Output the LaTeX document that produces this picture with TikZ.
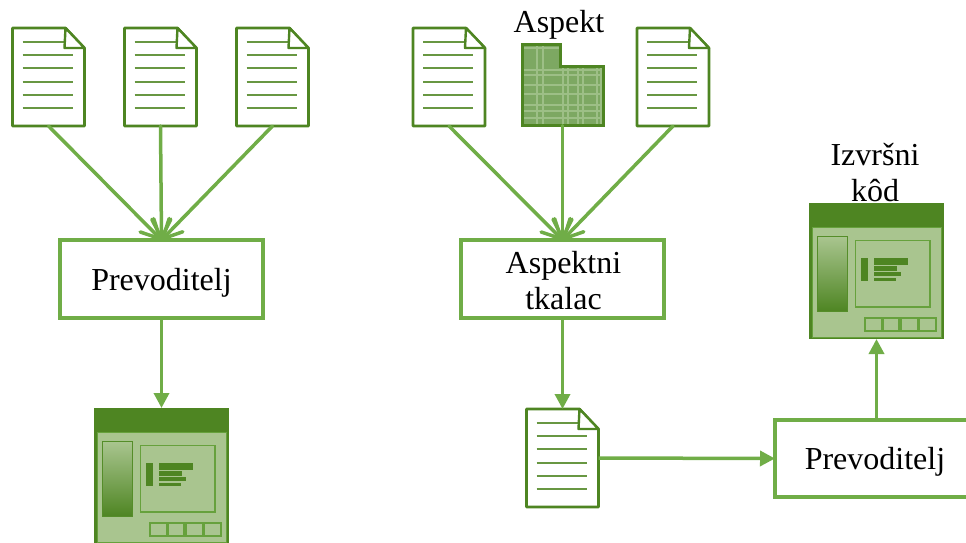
\documentclass[tikz,border=0pt]{standalone}
\usepackage{fontspec}
\setmainfont{Liberation Serif}
\usetikzlibrary{arrows.meta}
\definecolor{gline}{HTML}{70AD47}
\definecolor{gdark}{HTML}{4E8522}
\definecolor{gpanel}{HTML}{A9C58F}
\definecolor{gasp}{HTML}{7DA862}
\definecolor{gpat}{HTML}{9DBF86}
\tikzset{
  x=1pt,y=-1pt,
  txt/.style={font=\fontsize{32}{37}\selectfont,align=center,inner sep=0pt,text=black},
  procbox/.style={draw=gline,line width=3.3pt,fill=white,minimum width=203pt,minimum height=78pt,inner sep=0pt,outer sep=0pt,anchor=north west},
  conn/.style={draw=gline,line width=3.5pt},
  barbtip/.style={-{Straight Barb[length=19pt,width=19pt,round]}},
  tritip/.style={-{Triangle[length=15pt,width=15pt]}},
  docline/.style={draw=gdark,line width=2pt,opacity=.85},
  hold/.style={inner sep=0pt,outer sep=0pt,anchor=north west},
  wpart/.style={draw=gline!70!gdark,line width=1.6pt},
}
\newcommand{\docicon}[3]{%
  \node[hold,minimum width=72pt,minimum height=98pt] (#1) at (#2,#3) {};
  \begin{scope}[shift={(#2,#3)}]
    \draw[gdark,line width=2.6pt,line join=round,fill=white] (0,0) -- (53,0) -- (72,20) -- (72,98) -- (0,98) -- cycle;
    \foreach \yy in {27,40,54,67,80}{\draw[docline] (10,\yy) -- (60,\yy);}
    \draw[gdark,line width=2.4pt,line join=round,fill=white] (53,0) -- (52,20) -- (72,20) -- cycle;
    \draw[docline] (10,13.5) -- (52,13.5);
  \end{scope}}
\newcommand{\winicon}[3]{%
  \node[hold,minimum width=135pt,minimum height=136pt,fill=gdark] (#1) at (#2,#3) {};
  \begin{scope}[shift={(#2,#3)}]
    \fill[gpanel] (2.5,24) rectangle (132.5,134);
    \draw[gline!70!gdark,line width=1pt] (3,24.5) rectangle (132,134);
    \shade[top color=gpanel,bottom color=gdark,draw=gdark!80!gline,line width=1.6pt] (8.5,33.5) rectangle (38.5,108.5);
    \draw[wpart] (46.5,37.5) rectangle (121,104);
    \fill[gdark] (52,55) rectangle (59,78);
    \fill[gdark] (65,55) rectangle (99,62);
    \fill[gdark] (65,62.5) rectangle (88,67.5);
    \fill[gdark] (65,68.5) rectangle (92,73);
    \fill[gdark] (65,74.5) rectangle (87,78);
    \draw[wpart] (56,115) rectangle (73,128);
    \draw[wpart] (74,115) rectangle (90,128);
    \draw[wpart] (92,115) rectangle (109,128);
    \draw[wpart] (110,115) rectangle (127,128);
  \end{scope}}
\begin{document}
\begin{tikzpicture}
\useasboundingbox (0,0) rectangle (966,542);
\clip (0,0) rectangle (966,542);
\docicon{a}{12.5}{28}
\docicon{b}{124.5}{28}
\docicon{c}{236.5}{28}
\docicon{d}{413}{28}
\docicon{f}{637}{28}
\docicon{g}{526.5}{409}
% aspect shape
\node[hold,minimum width=81pt,minimum height=81pt] (e) at (522,44.5) {};
\begin{scope}
  \fill[gasp] (522,44) -- (560,44) -- (560,66) -- (603,66) -- (603,125) -- (522,125) -- cycle;
  \begin{scope}
    \clip (522,44) -- (560,44) -- (560,66) -- (603,66) -- (603,125) -- (522,125) -- cycle;
    \foreach \xx in {537,543,563,568,578,583,597,601}{\draw[gpat,line width=1.2pt] (\xx,44) -- (\xx,125);}
    \foreach \yy in {48,70,75,85,94,105,111,118}{\draw[gpat,line width=1.2pt] (522,\yy) -- (603,\yy);}
  \end{scope}
  \draw[gdark,line width=3pt,line join=miter] (522,44) -- (560,44) -- (560,66) -- (603,66) -- (603,125) -- (522,125) -- cycle;
\end{scope}
\winicon{w}{94}{408}
\winicon{x}{809}{203}
\node[procbox] (p) at (60,240) {};
\node[procbox] (t) at (461,240) {};
\node[procbox,minimum width=200pt,minimum height=77pt] (q) at (775,420) {};
\node[txt] (pl) at ([yshift=-4pt]p.center) {Prevoditelj};
\node[txt] (tl) at ([yshift=-2pt,xshift=1pt]t.center) {Aspektni\\[-1pt]tkalac};
\node[txt] (ql) at ([yshift=-3.5pt]q.center) {Prevoditelj};
\path[conn,barbtip,line cap=round] (a.south) -- (p.north);
\path[conn,barbtip,line cap=round] (b.south) -- (p.north);
\path[conn,barbtip,line cap=round] (c.south) -- (p.north);
\path[conn,barbtip,line cap=round] (d.south) -- (t.north);
\path[conn,barbtip,line cap=round] (e.south) -- (t.north);
\path[conn,barbtip,line cap=round] (f.south) -- (t.north);
\path[conn,tritip] (p.south) -- (w.north);
\path[conn,tritip] (t.south) -- (g.north);
\path[conn,tritip] (g.east) -- (q.west);
\path[conn,tritip] (q.north -| x.south) -- (x.south);
\node[txt] (la) at (559,25) {Aspekt};
\node[txt] (lx) at (875,173) {Izvršni\\[-1pt]kôd};
\end{tikzpicture}
\end{document}
